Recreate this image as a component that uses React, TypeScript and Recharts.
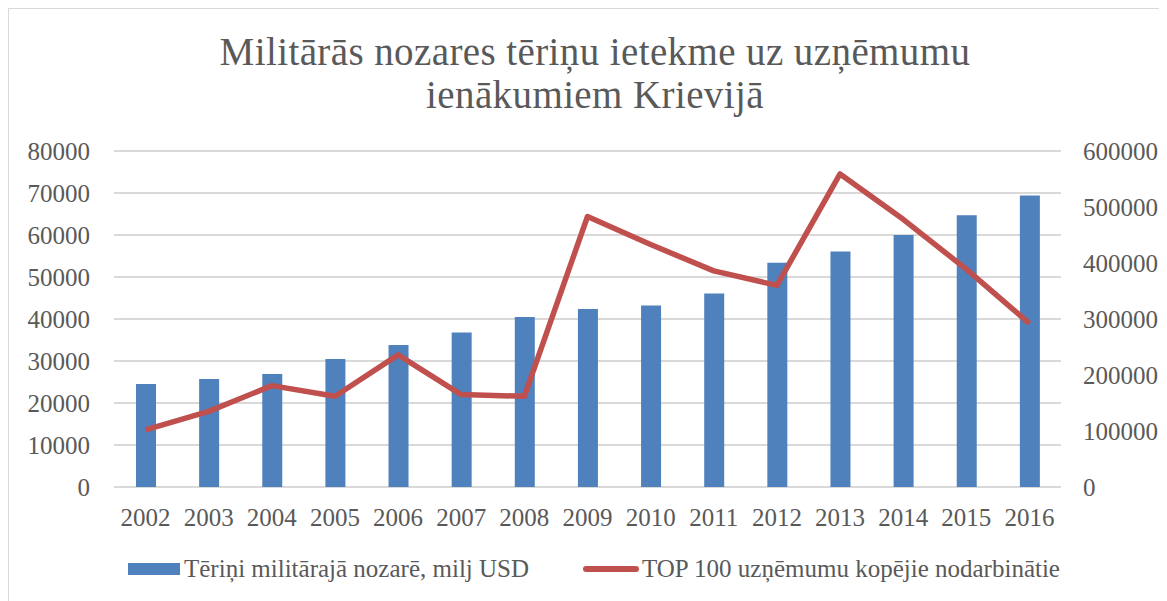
import { ComposedChart, Bar, Line, XAxis, YAxis, CartesianGrid } from "recharts";

const years = ["2002", "2003", "2004", "2005", "2006", "2007", "2008", "2009", "2010", "2011", "2012", "2013", "2014", "2015", "2016"];
const spending = [24500, 25700, 26900, 30500, 33800, 36800, 40500, 42400, 43200, 46100, 53400, 56100, 60000, 64700, 69400];
const employees = [102000, 135000, 181000, 162000, 236000, 165000, 162000, 483000, 433000, 386000, 360000, 559000, 478000, 389000, 292000];
const leftTicks = [0, 10000, 20000, 30000, 40000, 50000, 60000, 70000, 80000];
const rightTicks = [0, 100000, 200000, 300000, 400000, 500000, 600000];

const titleLines = ["Militārās nozares tēriņu ietekme uz uzņēmumu", "ienākumiem Krievijā"];
const barName = "Tēriņi militārajā nozarē, milj USD";
const lineName = "TOP 100 uzņēmumu kopējie nodarbinātie";

const data = years.map((year, i) => ({ year, spending: spending[i], employees: employees[i] }));

const FONT = '"Liberation Serif", serif';
const TEXT = "#595959";
const BLUE = "#4f81bd";
const RED = "#c0504d";
const GRID = "#d9d9d9";

export default function App() {
  const tick = { fill: TEXT, fontSize: 25, fontFamily: FONT };
  return (
    <div
      style={{
        position: "relative",
        width: 1159,
        height: 593,
        borderTop: `1px solid ${GRID}`,
        borderLeft: `1px solid ${GRID}`,
        boxSizing: "border-box",
        fontFamily: FONT,
        color: TEXT,
      }}
    >
      <div
        style={{
          position: "absolute",
          left: 0,
          top: 21,
          width: 1158,
          paddingLeft: 14,
          boxSizing: "border-box",
          textAlign: "center",
          fontSize: 39,
          lineHeight: "43px",
          letterSpacing: 0.4,
        }}
      >
        {titleLines.map((t) => (
          <div key={t}>{t}</div>
        ))}
      </div>
      <ComposedChart width={1158} height={592} data={data} margin={{ top: 142, right: 0, bottom: 74, left: 0 }}>
        <CartesianGrid yAxisId="left" vertical={false} stroke={GRID} strokeWidth={2} />
        <XAxis dataKey="year" axisLine={false} tickLine={false} tickSize={0} tickMargin={21} height={40} tick={tick} />
        <YAxis
          yAxisId="left"
          orientation="left"
          width={105}
          domain={[0, 80000]}
          ticks={leftTicks}
          axisLine={false}
          tickLine={false}
          tickSize={0}
          tickMargin={24}
          tick={tick}
        />
        <YAxis
          yAxisId="right"
          orientation="right"
          width={106}
          domain={[0, 600000]}
          ticks={rightTicks}
          axisLine={false}
          tickLine={false}
          tickSize={0}
          tickMargin={22}
          tick={{ ...tick, textAnchor: "start" }}
        />
        <Bar yAxisId="left" dataKey="spending" name={barName} fill={BLUE} barSize={20} isAnimationActive={false} />
        <Line
          yAxisId="right"
          dataKey="employees"
          name={lineName}
          type="linear"
          stroke={RED}
          strokeWidth={5.5}
          dot={false}
          strokeLinejoin="round"
          isAnimationActive={false}
        />
      </ComposedChart>
      <div style={{ position: "absolute", left: 119, top: 545, height: 30, display: "flex", alignItems: "center", fontSize: 25 }}>
        <span style={{ display: "inline-block", width: 52, height: 12, background: BLUE, marginRight: 4 }} />
        <span>{barName}</span>
      </div>
      <div style={{ position: "absolute", left: 574, top: 545, height: 30, display: "flex", alignItems: "center", fontSize: 25 }}>
        <span style={{ display: "inline-block", width: 56, height: 6, borderRadius: 3, background: RED, marginRight: 3 }} />
        <span>{lineName}</span>
      </div>
    </div>
  );
}
